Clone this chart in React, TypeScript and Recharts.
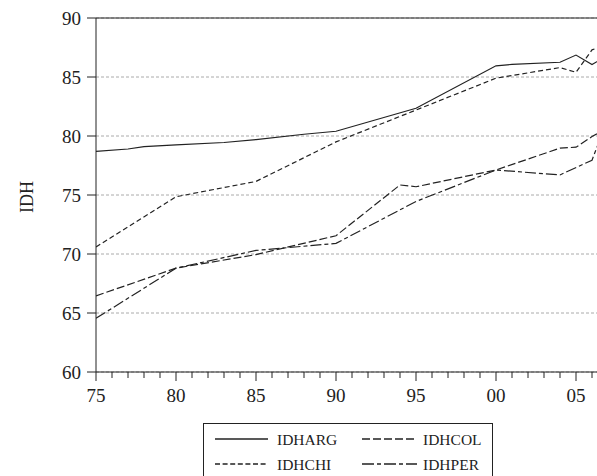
import React from 'react';
import { LineChart, Line, XAxis, YAxis, CartesianGrid, ReferenceLine, Legend, Label } from 'recharts';

const FONT = '"Liberation Serif", "Times New Roman", serif';
const INK = '#222';

// Years on the x axis (one minor tick per year, labels every five)
const yearTicks = [
  1975, 1976, 1977, 1978, 1979, 1980, 1981, 1982, 1983, 1984, 1985, 1986, 1987, 1988, 1989, 1990,
  1991, 1992, 1993, 1994, 1995, 1996, 1997, 1998, 1999, 2000, 2001, 2002, 2003, 2004, 2005, 2006, 2007,
];
const yTicks = [60, 65, 70, 75, 80, 85, 90];

// IDHARG
const argYears = [1975, 1977, 1978, 1980, 1983, 1985, 1988, 1990, 1995, 2000, 2001, 2004, 2005, 2006, 2007];
const argValues = [78.7, 78.9, 79.1, 79.25, 79.45, 79.7, 80.15, 80.4, 82.35, 85.95, 86.07, 86.25, 86.86, 86.05, 86.85];

// IDHCHI
const chiYears = [1975, 1980, 1985, 1990, 1995, 2000, 2004, 2005, 2006, 2007];
const chiValues = [70.6, 74.85, 76.15, 79.5, 82.2, 84.9, 85.8, 85.4, 87.3, 87.75];

// IDHCOL
const colYears = [1975, 1980, 1985, 1990, 1994, 1995, 2000, 2004, 2005, 2006, 2007];
const colValues = [66.45, 68.8, 69.95, 71.55, 75.85, 75.7, 77.12, 78.97, 79.05, 79.95, 80.7];

// IDHPER
const perYears = [1975, 1980, 1985, 1990, 1995, 2000, 2004, 2006, 2007];
const perValues = [64.55, 68.8, 70.3, 70.9, 74.45, 77.12, 76.7, 77.95, 81.5];

const seriesNames = ['IDHARG', 'IDHCOL', 'IDHCHI', 'IDHPER'];
const seriesDash = ['', '8 3', '5 3', '11 3 4 3'];
const legendDash = ['', '8 3', '5 2.6', '12 3 4 3'];

const build = (years: number[], values: number[]) => years.map((year, i) => ({ year, v: values[i] }));

const argData = build(argYears, argValues);
const colData = build(colYears, colValues);
const chiData = build(chiYears, chiValues);
const perData = build(perYears, perValues);

const XTick = (props: any) => {
  const { x, y, payload } = props;
  const yr = Number(payload.value);
  const major = yr % 5 === 0;
  return (
    <g>
      <line x1={x} y1={y} x2={x} y2={y + (major ? 9 : 6)} stroke={INK} strokeWidth={1} />
      {major && (
        <text x={x} y={y + 30} textAnchor="middle" fontFamily={FONT} fontSize={19} fill={INK}>
          {String(yr % 100).padStart(2, '0')}
        </text>
      )}
    </g>
  );
};

const renderLegend = () => {
  const cols = [
    { lx1: 12, lx2: 65, tx: 74 },
    { lx1: 159, lx2: 214, tx: 220 },
  ];
  const rows = [16, 41];
  return (
    <svg width={300} height={80} style={{ display: 'block' }}>
      <rect x={0.5} y={0.5} width={289} height={76} fill="none" stroke={INK} strokeWidth={1} />
      {seriesNames.map((name, i) => {
        const c = cols[i % 2];
        const r = rows[Math.floor(i / 2)];
        return (
          <g key={name}>
            <line x1={c.lx1} y1={r} x2={c.lx2} y2={r} stroke={INK} strokeWidth={1.3}
              strokeDasharray={legendDash[i] || undefined} />
            <text x={c.tx} y={r + 5.5} fontFamily={FONT} fontSize={15.5} fill={INK}>{name}</text>
          </g>
        );
      })}
    </svg>
  );
};

export default function App() {
  return (
    <div style={{ position: 'absolute', left: 8, top: 8, width: 589, height: 468, overflow: 'hidden' }}>
      <LineChart width={610} height={500} margin={{ top: 10, right: 10, left: 0, bottom: 96 }}>
        <CartesianGrid horizontal vertical={false} stroke="#aaa" strokeDasharray="3 2" />
        <XAxis
          type="number"
          dataKey="year"
          domain={[1975, 2007]}
          ticks={yearTicks}
          interval={0}
          tick={<XTick />}
          tickLine={false}
          tickSize={0}
          tickMargin={0}
          axisLine={{ stroke: INK }}
          height={40}
          allowDataOverflow
        />
        <YAxis
          type="number"
          domain={[60, 90]}
          ticks={yTicks}
          interval={0}
          width={88}
          tickSize={9}
          tickMargin={6}
          tick={{ fontFamily: FONT, fontSize: 19, fill: INK }}
          tickLine={{ stroke: INK }}
          axisLine={{ stroke: INK }}
        >
          <Label
            content={() => (
              <text x={19} y={189} transform="rotate(-90 19 189)" textAnchor="middle"
                dominantBaseline="central" fontFamily={FONT} fontSize={18} fill={INK}>IDH</text>
            )}
          />
        </YAxis>
        <ReferenceLine y={90} stroke={INK} strokeWidth={1} />
        <ReferenceLine x={2007} stroke={INK} strokeWidth={1} />
        <Line data={argData} dataKey="v" name={seriesNames[0]} type="linear" stroke={INK} strokeWidth={1.2} dot={false} isAnimationActive={false} />
        <Line data={colData} dataKey="v" name={seriesNames[1]} type="linear" stroke={INK} strokeWidth={1.2} strokeDasharray={seriesDash[1]} dot={false} isAnimationActive={false} />
        <Line data={chiData} dataKey="v" name={seriesNames[2]} type="linear" stroke={INK} strokeWidth={1.2} strokeDasharray={seriesDash[2]} dot={false} isAnimationActive={false} />
        <Line data={perData} dataKey="v" name={seriesNames[3]} type="linear" stroke={INK} strokeWidth={1.2} strokeDasharray={seriesDash[3]} dot={false} isAnimationActive={false} />
        <Legend
          layout="vertical"
          align="center"
          verticalAlign="middle"
          content={renderLegend}
          wrapperStyle={{ left: 195, top: 415, width: 300, height: 80 }}
        />
      </LineChart>
    </div>
  );
}
